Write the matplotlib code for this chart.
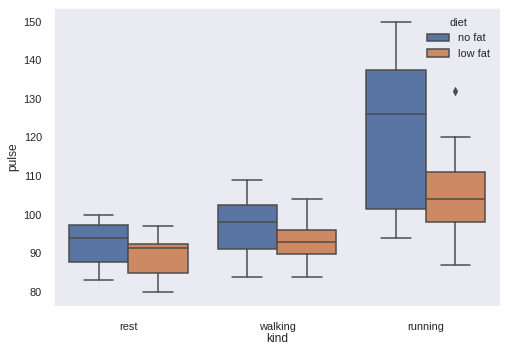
import matplotlib
matplotlib.use("Agg")
import matplotlib.pyplot as plt
import matplotlib.patches as mpatches
import numpy as np
import seaborn as sns

# box statistics (pulse by kind / diet)
kinds = ["rest", "walking", "running"]
diets = ["no fat", "low fat"]

whislo = {"no fat": [83, 84, 94], "low fat": [80, 84, 87]}
q1 = {"no fat": [87.75, 91, 101.5], "low fat": [85, 89.75, 98]}
med = {"no fat": [94, 98, 126], "low fat": [91.5, 93, 104]}
q3 = {"no fat": [97.25, 102.5, 137.5], "low fat": [92.5, 96, 111]}
whishi = {"no fat": [100, 109, 150], "low fat": [97, 104, 120]}
fliers = {"no fat": [[], [], []], "low fat": [[], [], [132]]}

sns.set_style("dark")
plt.rcParams["font.family"] = ["Liberation Sans", "DejaVu Sans"]
plt.rcParams["legend.frameon"] = False

base = sns.color_palette("deep", 2)
colors = [sns.desaturate(c, 0.75) for c in base]
gray = "#4b4b4b"

fig = plt.figure(figsize=(506 / 72, 350 / 72), dpi=72)
ax = fig.add_axes([54 / 506, 44.5 / 350, 446 / 506, 297.5 / 350])

width = 0.4
offsets = [-0.2, 0.2]
for d, diet in enumerate(diets):
    stats = []
    for i in range(len(kinds)):
        stats.append({"whislo": whislo[diet][i], "q1": q1[diet][i],
                      "med": med[diet][i], "q3": q3[diet][i],
                      "whishi": whishi[diet][i], "fliers": fliers[diet][i]})
    pos = np.arange(len(kinds)) + offsets[d]
    ax.bxp(stats, positions=pos, widths=width, patch_artist=True,
           manage_ticks=False,
           boxprops=dict(facecolor=colors[d], edgecolor=gray, linewidth=1.5),
           medianprops=dict(color=gray, linewidth=1.5),
           whiskerprops=dict(color=gray, linewidth=1.5),
           capprops=dict(color=gray, linewidth=1.5),
           flierprops=dict(marker="d", markerfacecolor=gray, markeredgecolor=gray,
                           markersize=5, linestyle="none"))

ax.set_xlim(-0.5, len(kinds) - 0.5)
ax.set_ylim(76.5, 153.5)
ax.set_xticks(np.arange(len(kinds)))
ax.set_xticklabels(kinds)
ax.tick_params(labelsize=11, colors="#262626")
ax.tick_params(axis="x", pad=12.5)
ax.tick_params(axis="y", pad=8.5)
ax.set_xlabel("kind", fontsize=12, color="#262626", labelpad=2)
ax.set_ylabel("pulse", fontsize=12, color="#262626")

handles = [mpatches.Patch(facecolor=colors[d], edgecolor=gray, linewidth=1.5, label=diet)
           for d, diet in enumerate(diets)]
leg = ax.legend(handles=handles, title="diet", loc="upper right", fontsize=11,
                title_fontsize=11)

fig.savefig("out.png", dpi=72)
